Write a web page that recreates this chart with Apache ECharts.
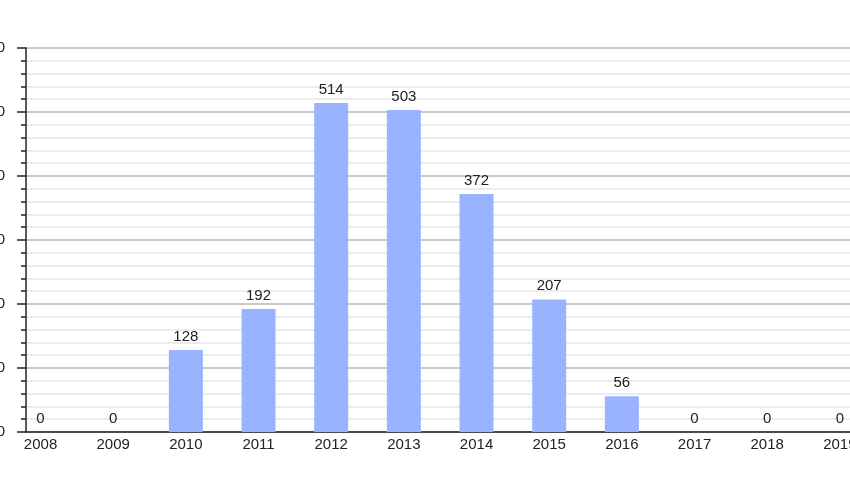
<!DOCTYPE html>
<html>
<head>
<meta charset="utf-8">
<script src="https://cdn.jsdelivr.net/npm/echarts@6/dist/echarts.min.js"></script>
<style>html,body{margin:0;padding:0;background:#fff;}#c{width:850px;height:480px;}</style>
</head>
<body>
<div id="c"></div>
<script>
var years = [2008, 2009, 2010, 2011, 2012, 2013, 2014, 2015, 2016, 2017, 2018, 2019];
var counts = [0, 0, 128, 192, 514, 503, 372, 207, 56, 0, 0, 0];
var yTicks = [0, 100, 200, 300, 400, 500, 600];

var chart = echarts.init(document.getElementById('c'), null, {renderer: 'canvas'});
var font = '"Liberation Sans", Arial, sans-serif';
chart.setOption({
  animation: false,
  backgroundColor: '#ffffff',
  grid: {left: 26, top: 48, bottom: 48, width: 872, containLabel: false, outerBoundsMode: 'none'},
  xAxis: {
    type: 'value',
    min: 2007.8,
    max: 2019.8,
    splitLine: {show: false},
    axisTick: {show: false},
    axisLine: {show: true, onZero: false, lineStyle: {color: '#222', width: 1.5}},
    axisLabel: {
      customValues: years,
      formatter: function (v) { return String(Math.round(v)); },
      color: '#222', fontSize: 15, fontFamily: font, margin: 5
    }
  },
  yAxis: {
    type: 'value',
    min: yTicks[0],
    max: yTicks[yTicks.length - 1],
    interval: 100,
    axisLine: {show: true, lineStyle: {color: '#222', width: 1.5}},
    axisTick: {show: true, length: 9, lineStyle: {color: '#222', width: 1.5}},
    minorTick: {show: true, splitNumber: 5, length: 5, lineStyle: {color: '#222', width: 1.5}},
    splitLine: {show: true, lineStyle: {color: '#b8b8b8', width: 1.5}},
    minorSplitLine: {show: true, lineStyle: {color: '#e6e6e6', width: 1.5}},
    axisLabel: {color: '#222', fontSize: 15, fontFamily: font, margin: 21}
  },
  series: [{
    type: 'bar',
    barWidth: 34,
    data: years.map(function (y, i) { return [y, counts[i]]; }),
    itemStyle: {color: '#99b3ff'},
    label: {show: true, position: 'top', distance: 6, color: '#222', fontSize: 15, fontFamily: font,
      formatter: function (p) { return String(p.value[1]); }}
  }]
});
</script>
</body>
</html>
